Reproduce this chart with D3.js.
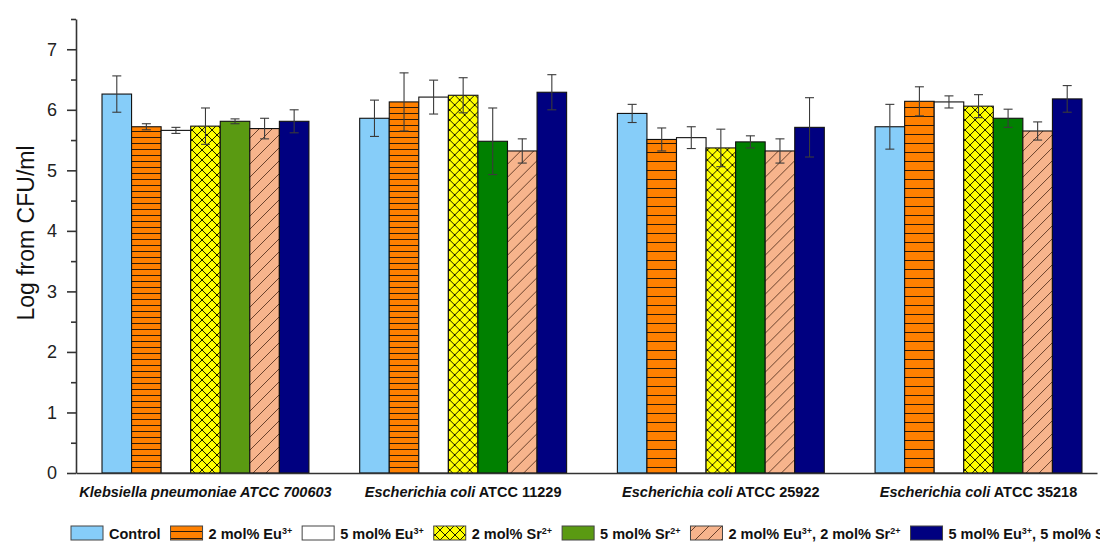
<!DOCTYPE html>
<html>
<head>
<meta charset="utf-8">
<script src="https://cdn.jsdelivr.net/npm/d3@7"></script>
<style>
  html, body { margin: 0; padding: 0; background: #ffffff; }
  svg { display: block; font-family: "Liberation Sans", Arial, sans-serif; }
</style>
</head>
<body>
<svg id="chart" width="1100" height="542"></svg>
<script>
// ---------------- data ----------------
const categories = ["Klebsiella pneumoniae ATCC 700603", "Escherichia coli ATCC 11229", "Escherichia coli ATCC 25922", "Escherichia coli ATCC 35218"];
const categoryItalic = ["Klebsiella pneumoniae ATCC 700603", "Escherichia coli", "Escherichia coli", "Escherichia coli"];
const categoryPlain = ["", " ATCC 11229", " ATCC 25922", " ATCC 35218"];
const seriesNames = ["Control", "2 mol% Eu3+", "5 mol% Eu3+", "2 mol% Sr2+", "5 mol% Sr2+", "2 mol% Eu3+, 2 mol% Sr2+", "5 mol% Eu3+, 5 mol% Sr2+"];

const control   = [6.26, 5.86, 5.94, 5.72];
const eu2       = [5.72, 6.13, 5.51, 6.14];
const eu5       = [5.66, 6.21, 5.54, 6.13];
const sr2       = [5.73, 6.24, 5.37, 6.06];
const sr5       = [5.81, 5.48, 5.47, 5.86];
const eu2sr2    = [5.69, 5.32, 5.32, 5.65];
const eu5sr5    = [5.81, 6.29, 5.71, 6.18];

const controlErr = [0.30, 0.30, 0.15, 0.37];
const eu2Err     = [0.05, 0.48, 0.19, 0.24];
const eu5Err     = [0.05, 0.28, 0.18, 0.10];
const sr2Err     = [0.30, 0.29, 0.31, 0.19];
const sr5Err     = [0.04, 0.55, 0.10, 0.15];
const eu2sr2Err  = [0.17, 0.20, 0.20, 0.15];
const eu5sr5Err  = [0.19, 0.29, 0.49, 0.22];

const yTicks = [0, 1, 2, 3, 4, 5, 6, 7];
const yMinorTicks = [0.5, 1.5, 2.5, 3.5, 4.5, 5.5, 6.5, 7.5];

const seriesValues = [control, eu2, eu5, sr2, sr5, eu2sr2, eu5sr5];
const seriesErrors = [controlErr, eu2Err, eu5Err, sr2Err, sr5Err, eu2sr2Err, eu5sr5Err];

// ---------------- styles ----------------
const FONT = '"Liberation Sans", Arial, sans-serif';
const AXIS_COLOR = "#333333";
const plot = { left: 76, right: 1097, top: 19, bottom: 473 };

const svg = d3.select("#chart");
const defs = svg.append("defs");

// patterns
function stripePattern(id, spacing) {
  const p = defs.append("pattern").attr("id", id).attr("patternUnits", "userSpaceOnUse")
    .attr("width", 10).attr("height", spacing);
  p.append("rect").attr("width", 10).attr("height", spacing).attr("fill", "#ff8000");
  p.append("line").attr("x1", 0).attr("x2", 10).attr("y1", spacing - 0.5).attr("y2", spacing - 0.5)
    .attr("stroke", "#2a1a0a").attr("stroke-width", 1);
}
function crossPattern(id) {
  const s = 10;
  const p = defs.append("pattern").attr("id", id).attr("patternUnits", "userSpaceOnUse")
    .attr("width", s).attr("height", s);
  p.append("rect").attr("width", s).attr("height", s).attr("fill", "#ffff00");
  p.append("path").attr("d", `M0,0L${s},${s}M${s},0L0,${s}`)
    .attr("stroke", "#1a1a00").attr("stroke-width", 1);
}
function diagPattern(id) {
  const s = 13;
  const p = defs.append("pattern").attr("id", id).attr("patternUnits", "userSpaceOnUse")
    .attr("width", s).attr("height", s);
  p.append("rect").attr("width", s).attr("height", s).attr("fill", "#f7b48c");
  p.append("path").attr("d", `M0,${s}L${s},0M-2,2L2,-2M${s-2},${s+2}L${s+2},${s-2}`)
    .attr("stroke", "#5a3420").attr("stroke-width", 0.9);
}
stripePattern("stripeA", 6);
stripePattern("stripeB", 9);
stripePattern("stripeL", 7);
crossPattern("cross");
diagPattern("diag");

const stripeByGroup = ["url(#stripeA)", "url(#stripeA)", "url(#stripeB)", "url(#stripeB)"];
const greenByGroup = ["#5a9a12", "#008000", "#008000", "#008000"];
function fillFor(si, gi) {
  switch (si) {
    case 0: return "#86cdf9";
    case 1: return stripeByGroup[gi];
    case 2: return "#ffffff";
    case 3: return "url(#cross)";
    case 4: return greenByGroup[gi];
    case 5: return "url(#diag)";
    case 6: return "#000080";
  }
}
const legendFill = ["#86cdf9", "url(#stripeL)", "#ffffff", "url(#cross)", "#5a9a12", "url(#diag)", "#000080"];

// ---------------- scales ----------------
const y = d3.scaleLinear().domain([0, 7.5]).range([plot.bottom, plot.top]);
const x0 = d3.scaleBand().domain(categories).range([plot.left, plot.right])
  .paddingInner(0.197).paddingOuter(0.0796).align(0.634);
const x1 = d3.scaleBand().domain(d3.range(seriesNames.length)).range([0, x0.bandwidth()]).padding(0);

// ---------------- bars ----------------
const groups = svg.append("g").selectAll("g").data(categories).join("g")
  .attr("transform", d => `translate(${x0(d)},0)`);

groups.each(function(cat, gi) {
  const g = d3.select(this);
  const rows = seriesNames.map((s, si) => ({ si, v: seriesValues[si][gi], e: seriesErrors[si][gi] }));
  g.selectAll("rect.bar").data(rows).join("rect").attr("class", "bar")
    .attr("x", d => x1(d.si))
    .attr("y", d => y(d.v))
    .attr("width", x1.bandwidth())
    .attr("height", d => y(0) - y(d.v))
    .attr("fill", d => fillFor(d.si, gi))
    .attr("stroke", "#111")
    .attr("stroke-width", 1.1);
  const eb = g.selectAll("g.err").data(rows).join("g").attr("class", "err")
    .attr("stroke", "#3a3a3a").attr("stroke-width", 1.1).attr("fill", "none");
  const cx = d => x1(d.si) + x1.bandwidth() / 2;
  eb.append("line").attr("x1", cx).attr("x2", cx).attr("y1", d => y(d.v + d.e)).attr("y2", d => y(d.v - d.e));
  eb.append("line").attr("x1", d => cx(d) - 4.5).attr("x2", d => cx(d) + 4.5).attr("y1", d => y(d.v + d.e)).attr("y2", d => y(d.v + d.e));
  eb.append("line").attr("x1", d => cx(d) - 4.5).attr("x2", d => cx(d) + 4.5).attr("y1", d => y(d.v - d.e)).attr("y2", d => y(d.v - d.e));
});

// ---------------- axes ----------------
const yAxis = svg.append("g").attr("transform", `translate(${plot.left},0)`)
  .call(d3.axisLeft(y).tickValues(yTicks).tickSize(9).tickSizeOuter(0).tickPadding(10).tickFormat(d3.format("d")));
yAxis.select(".domain").attr("stroke", AXIS_COLOR).attr("stroke-width", 1.6);
yAxis.selectAll(".tick line").attr("stroke", AXIS_COLOR).attr("stroke-width", 1.6);
yAxis.selectAll(".tick text").attr("font-family", FONT).attr("font-size", 18).attr("fill", "#222");

const yMinor = svg.append("g").attr("transform", `translate(${plot.left},0)`)
  .call(d3.axisLeft(y).tickValues(yMinorTicks).tickSize(5).tickSizeOuter(0).tickFormat(""));
yMinor.select(".domain").remove();
yMinor.selectAll(".tick line").attr("stroke", AXIS_COLOR).attr("stroke-width", 1.6);

const xAxis = svg.append("g").attr("transform", `translate(0,${plot.bottom})`)
  .call(d3.axisBottom(x0).tickSize(0).tickSizeOuter(0).tickFormat(""));
xAxis.select(".domain").attr("stroke", AXIS_COLOR).attr("stroke-width", 1.6);

// category labels
const catLabels = svg.append("g").selectAll("text").data(categories).join("text")
  .attr("x", d => x0(d) + x0.bandwidth() / 2)
  .attr("y", 497)
  .attr("text-anchor", "middle")
  .attr("font-family", FONT).attr("font-size", 14.5).attr("font-weight", "bold").attr("fill", "#111");
catLabels.each(function(d, i) {
  const t = d3.select(this);
  t.append("tspan").attr("font-style", "italic").text(categoryItalic[i]);
  if (categoryPlain[i]) t.append("tspan").text(categoryPlain[i]);
});

// y title
svg.append("text")
  .attr("transform", `translate(34,${(plot.top + plot.bottom) / 2 - 13}) rotate(-90)`)
  .attr("text-anchor", "middle")
  .attr("font-family", FONT).attr("font-size", 23).attr("fill", "#111")
  .text("Log from CFU/ml");

// ---------------- legend ----------------
const legend = svg.append("g");
let lx = 71;
const boxW = 32, boxH = 14, boxY = 526;
seriesNames.forEach((name, si) => {
  legend.append("rect").attr("x", lx).attr("y", boxY).attr("width", boxW).attr("height", boxH)
    .attr("fill", legendFill[si]).attr("stroke", "#444").attr("stroke-width", 1);
  const t = legend.append("text").attr("x", lx + boxW + 6).attr("y", boxY + 12.5)
    .attr("font-family", FONT).attr("font-size", 14.5).attr("font-weight", "bold").attr("fill", "#111");
  const parts = name.split(/(\d\+)/).filter(p => p.length);
  parts.forEach(p => {
    if (/^\d\+$/.test(p)) {
      t.append("tspan").attr("font-size", 9).attr("baseline-shift", "55%").text(p);
    } else {
      t.append("tspan").text(p);
    }
  });
  lx += boxW + 6 + t.node().getComputedTextLength() + 10;
});
</script>
</body>
</html>
